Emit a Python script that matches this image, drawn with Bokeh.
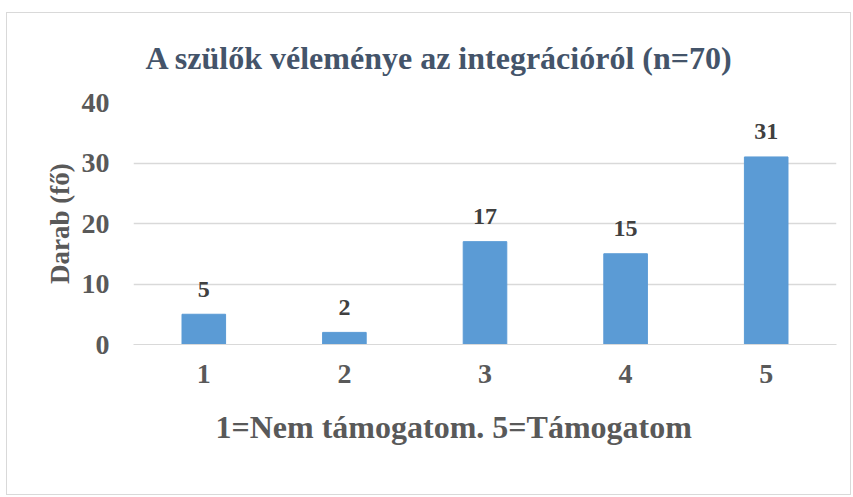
from bokeh.plotting import figure
from bokeh.models import Range1d, FixedTicker, Title, ColumnDataSource
from bokeh.core.properties import value
from bokeh.embed import file_html
from bokeh.resources import INLINE

categories = [1, 2, 3, 4, 5]
tick_labels = ["1", "2", "3", "4", "5"]
counts = [5, 2, 17, 15, 31]
y_ticks = [0, 10, 20, 30, 40]
title_text = "A szülők véleménye az integrációról (n=70)"
x_title = "1=Nem támogatom. 5=Támogatom"
y_title = "Darab (fő)"

FONT = "'Liberation Serif', 'Times New Roman', serif"

p = figure(width=845, height=483, output_backend="svg", toolbar_location=None,
           x_range=Range1d(0.5, 5.5), y_range=Range1d(0, 40),
           min_border_left=126, min_border_right=16, min_border_top=89, min_border_bottom=152)
p.outline_line_color = None
p.background_fill_color = "white"
p.border_fill_color = "white"

src = ColumnDataSource(dict(x=categories, y=counts, lbl=[str(c) for c in counts]))
p.vbar(x="x", top="y", width=0.31, source=src, fill_color="#5B9BD5", line_color="#5B9BD5")
p.text(x="x", y="y", text="lbl", source=src, text_align="center", text_baseline="alphabetic",
       y_offset=-25, text_font=value(FONT), text_font_style="bold", text_font_size="24px",
       text_color="#404040")

p.xaxis.ticker = FixedTicker(ticks=categories)
p.xaxis.major_label_overrides = {c: t for c, t in zip(categories, tick_labels)}
p.yaxis.ticker = FixedTicker(ticks=y_ticks)
for ax in (p.xaxis[0], p.yaxis[0]):
    ax.major_tick_line_color = None
    ax.minor_tick_line_color = None
    ax.major_label_text_font = FONT
    ax.major_label_text_font_style = "bold"
    ax.major_label_text_font_size = "28px"
    ax.major_label_text_color = "#595959"
p.xaxis.axis_line_color = "#D9D9D9"
p.yaxis.axis_line_color = None
p.xaxis.major_label_standoff = 14
p.yaxis.major_label_standoff = 18

p.yaxis.axis_label = y_title
p.yaxis.axis_label_text_font = FONT
p.yaxis.axis_label_text_font_style = "bold"
p.yaxis.axis_label_text_font_size = "27px"
p.yaxis.axis_label_text_color = "#595959"
p.yaxis.axis_label_standoff = 4

p.xgrid.grid_line_color = None
p.ygrid.grid_line_color = "#D9D9D9"
p.ygrid.grid_line_width = 1.5

p.title.text = title_text
p.title.align = "left"
p.title.vertical_align = "top"
p.title.offset = 12
p.title.standoff = 50
p.title.text_font = FONT
p.title.text_font_style = "bold"
p.title.text_font_size = "32px"
p.title.text_color = "#44546A"

p.add_layout(Title(text=x_title, align="left", offset=82, standoff=43,
                   text_font=FONT, text_font_style="bold", text_font_size="32px",
                   text_color="#595959"), "below")

p.styles = {"border": "1px solid #D9D9D9", "margin-left": "6px", "margin-top": "12px"}

open("out.html", "w").write(file_html(p, INLINE))
